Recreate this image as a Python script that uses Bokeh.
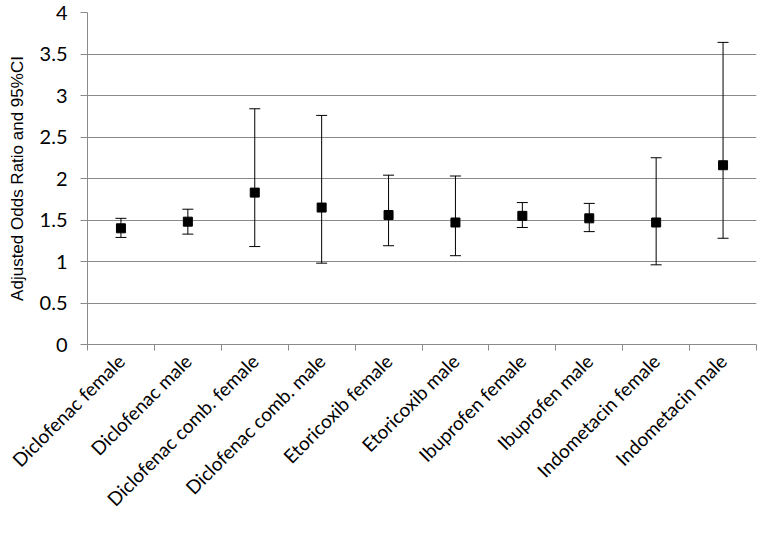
import numpy as np
from bokeh.plotting import figure
from bokeh.models import FixedTicker, ColumnDataSource, Whisker, TeeHead, Range1d
from bokeh.embed import file_html
from bokeh.resources import INLINE
import math

categories = ["Diclofenac female", "Diclofenac male", "Diclofenac comb. female",
              "Diclofenac comb. male", "Etoricoxib female", "Etoricoxib male",
              "Ibuprofen female", "Ibuprofen male", "Indometacin female", "Indometacin male"]
odds_ratio = [1.40, 1.48, 1.83, 1.65, 1.56, 1.47, 1.55, 1.52, 1.47, 2.16]
ci_lower = [1.29, 1.33, 1.18, 0.98, 1.19, 1.07, 1.41, 1.36, 0.96, 1.28]
ci_upper = [1.52, 1.63, 2.84, 2.76, 2.04, 2.03, 1.71, 1.70, 2.25, 3.64]
y_ticks = [0, 0.5, 1, 1.5, 2, 2.5, 3, 3.5, 4]

n = len(categories)
xpos = [i + 0.5 for i in range(n)]

src = ColumnDataSource(dict(x=xpos, y=odds_ratio, lo=ci_lower, hi=ci_upper))

p = figure(width=758, height=521, output_backend="svg", toolbar_location=None,
           x_range=Range1d(0, n), y_range=Range1d(0, 4),
           min_border_left=87, min_border_right=2, min_border_top=12, min_border_bottom=0)
p.outline_line_color = None
p.background_fill_color = "white"
p.border_fill_color = "white"

grid_col = "#8a8a8a"

# x axis
p.xaxis.ticker = FixedTicker(ticks=xpos, minor_ticks=list(range(n + 1)))
p.xaxis.major_label_overrides = {x: c for x, c in zip(xpos, categories)}
p.xaxis.major_tick_out = 0
p.xaxis.major_tick_in = 0
p.xaxis.minor_tick_out = 6
p.xaxis.minor_tick_in = 0
p.xaxis.minor_tick_line_color = grid_col
p.xaxis.axis_line_color = grid_col
p.xaxis.major_label_orientation = math.pi / 4
p.xaxis.major_label_text_font = "Lato"
p.xaxis.major_label_text_font_size = "19px"
p.xaxis.major_label_text_color = "black"
p.xaxis.major_label_standoff = 7

# y axis
p.yaxis.ticker = FixedTicker(ticks=y_ticks)
p.yaxis.major_tick_out = 7
p.yaxis.major_tick_in = 0
p.yaxis.minor_tick_line_color = None
p.yaxis.major_tick_line_color = grid_col
p.yaxis.axis_line_color = grid_col
p.yaxis.major_label_text_font = "Lato"
p.yaxis.major_label_text_font_size = "20px"
p.yaxis.major_label_text_color = "black"
p.yaxis.major_label_standoff = 13
p.yaxis.axis_label = "Adjusted Odds Ratio and 95%CI"
p.yaxis.axis_label_text_font = "Liberation Sans"
p.yaxis.axis_label_text_font_style = "normal"
p.yaxis.axis_label_text_font_size = "17px"
p.yaxis.axis_label_text_color = "black"
p.yaxis.axis_label_standoff = 10

p.xgrid.grid_line_color = None
p.ygrid.grid_line_color = grid_col
p.ygrid.grid_line_width = 1

w = Whisker(source=src, base="x", lower="lo", upper="hi", line_color="black", line_width=1,
            upper_head=TeeHead(size=11, line_color="black", line_width=1),
            lower_head=TeeHead(size=11, line_color="black", line_width=1))
p.add_layout(w)

p.scatter("x", "y", source=src, marker="square", size=9, fill_color="black", line_color="black")

open("out.html", "w").write(file_html(p, INLINE))
